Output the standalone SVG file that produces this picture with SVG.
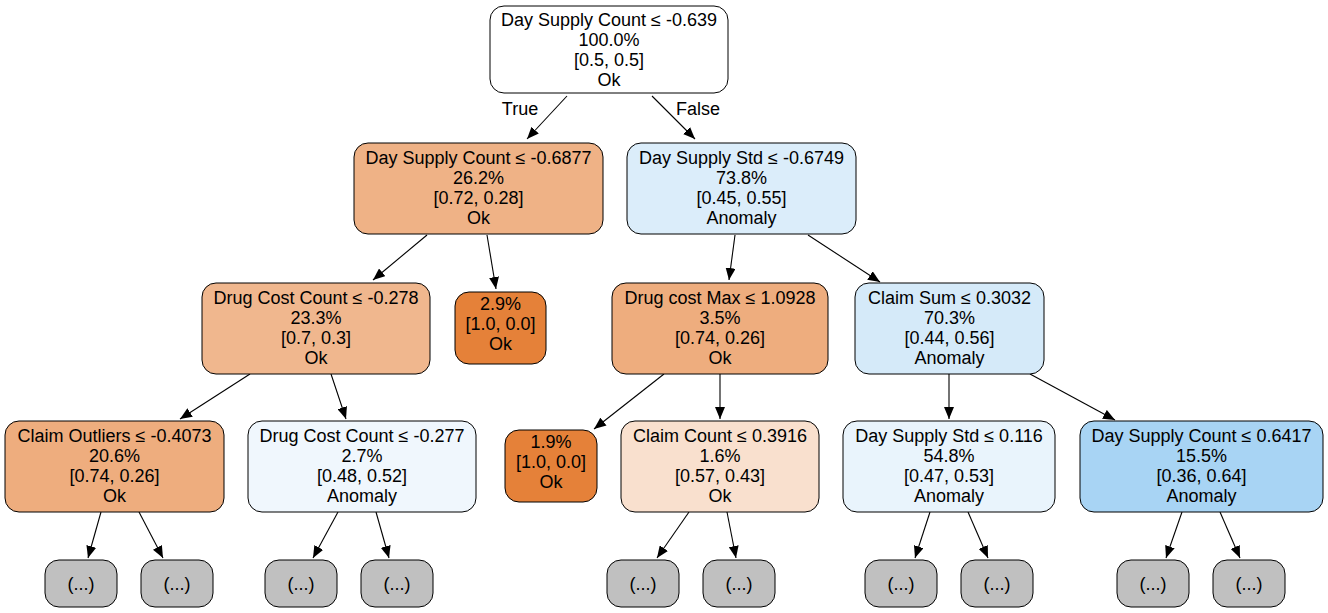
<svg xmlns="http://www.w3.org/2000/svg" width="1328" height="613" viewBox="0 0 1328 613">
<style>
text{font-family:"Liberation Sans",Arial,Helvetica,sans-serif;font-size:18px;fill:#000;text-anchor:middle}
.n{stroke:#000;stroke-width:1}
.e{stroke:#000;stroke-width:1.1;fill:none}
</style>
<defs>
<marker id="ah" markerWidth="12" markerHeight="10" refX="12" refY="5" orient="auto" markerUnits="userSpaceOnUse"><path d="M0,0 L12,5 L0,10 Z" fill="#000"/></marker>
</defs>
<rect width="1328" height="613" fill="#fff"/>
<g id="connectors">
<line class="e" x1="567" y1="96" x2="527" y2="139" marker-end="url(#ah)"/>
<line class="e" x1="652" y1="96" x2="695" y2="139" marker-end="url(#ah)"/>
<line class="e" x1="427" y1="235" x2="373" y2="280" marker-end="url(#ah)"/>
<line class="e" x1="487" y1="235" x2="496" y2="289" marker-end="url(#ah)"/>
<line class="e" x1="735" y1="235" x2="729" y2="280" marker-end="url(#ah)"/>
<line class="e" x1="808" y1="235" x2="880" y2="282" marker-end="url(#ah)"/>
<line class="e" x1="250" y1="374" x2="180" y2="419" marker-end="url(#ah)"/>
<line class="e" x1="331" y1="374" x2="346" y2="419" marker-end="url(#ah)"/>
<line class="e" x1="664" y1="374" x2="594" y2="429" marker-end="url(#ah)"/>
<line class="e" x1="720" y1="374" x2="720" y2="419" marker-end="url(#ah)"/>
<line class="e" x1="949" y1="374" x2="949" y2="419" marker-end="url(#ah)"/>
<line class="e" x1="1030" y1="374" x2="1115" y2="420" marker-end="url(#ah)"/>
<line class="e" x1="101" y1="512" x2="88" y2="558" marker-end="url(#ah)"/>
<line class="e" x1="139" y1="512" x2="163" y2="558" marker-end="url(#ah)"/>
<line class="e" x1="338" y1="512" x2="313" y2="558" marker-end="url(#ah)"/>
<line class="e" x1="376" y1="512" x2="389" y2="558" marker-end="url(#ah)"/>
<line class="e" x1="689" y1="512" x2="657" y2="558" marker-end="url(#ah)"/>
<line class="e" x1="727" y1="512" x2="736" y2="558" marker-end="url(#ah)"/>
<line class="e" x1="930" y1="512" x2="915" y2="558" marker-end="url(#ah)"/>
<line class="e" x1="968" y1="512" x2="988" y2="558" marker-end="url(#ah)"/>
<line class="e" x1="1182" y1="512" x2="1166" y2="558" marker-end="url(#ah)"/>
<line class="e" x1="1220" y1="512" x2="1240" y2="558" marker-end="url(#ah)"/>
<text x="520" y="115">True</text>
<text x="698" y="115">False</text>
</g>
<g id="n0"><rect class="n" x="490" y="6" width="238" height="87" rx="14" fill="#ffffff"/>
<text x="609" y="26">Day Supply Count ≤ -0.639</text><text x="609" y="46">100.0%</text><text x="609" y="66">[0.5, 0.5]</text><text x="609" y="86">Ok</text></g>
<g id="n1"><rect class="n" x="354" y="143" width="249" height="91" rx="14" fill="#efb286"/>
<text x="478.5" y="164">Day Supply Count ≤ -0.6877</text><text x="478.5" y="184">26.2%</text><text x="478.5" y="204">[0.72, 0.28]</text><text x="478.5" y="224">Ok</text></g>
<g id="n2"><rect class="n" x="627" y="143" width="229" height="91" rx="14" fill="#dbedfa"/>
<text x="741.5" y="164">Day Supply Std ≤ -0.6749</text><text x="741.5" y="184">73.8%</text><text x="741.5" y="204">[0.45, 0.55]</text><text x="741.5" y="224">Anomaly</text></g>
<g id="n3"><rect class="n" x="202" y="283" width="228" height="91" rx="14" fill="#f0b78e"/>
<text x="316" y="304">Drug Cost Count ≤ -0.278</text><text x="316" y="324">23.3%</text><text x="316" y="344">[0.7, 0.3]</text><text x="316" y="364">Ok</text></g>
<g id="n4"><rect class="n" x="455" y="292" width="91" height="72" rx="14" fill="#e58139"/>
<text x="500.5" y="310">2.9%</text><text x="500.5" y="330">[1.0, 0.0]</text><text x="500.5" y="350">Ok</text></g>
<g id="n5"><rect class="n" x="612" y="283" width="216" height="91" rx="14" fill="#eead7e"/>
<text x="720" y="304">Drug cost Max ≤ 1.0928</text><text x="720" y="324">3.5%</text><text x="720" y="344">[0.74, 0.26]</text><text x="720" y="364">Ok</text></g>
<g id="n6"><rect class="n" x="855" y="283" width="189" height="91" rx="14" fill="#d5eaf9"/>
<text x="949.5" y="304">Claim Sum ≤ 0.3032</text><text x="949.5" y="324">70.3%</text><text x="949.5" y="344">[0.44, 0.56]</text><text x="949.5" y="364">Anomaly</text></g>
<g id="n7"><rect class="n" x="5" y="421" width="219" height="91" rx="14" fill="#eead7e"/>
<text x="114.5" y="442">Claim Outliers ≤ -0.4073</text><text x="114.5" y="462">20.6%</text><text x="114.5" y="482">[0.74, 0.26]</text><text x="114.5" y="502">Ok</text></g>
<g id="n8"><rect class="n" x="248" y="421" width="228" height="91" rx="14" fill="#f0f7fd"/>
<text x="362" y="442">Drug Cost Count ≤ -0.277</text><text x="362" y="462">2.7%</text><text x="362" y="482">[0.48, 0.52]</text><text x="362" y="502">Anomaly</text></g>
<g id="n9"><rect class="n" x="505" y="430" width="92" height="72" rx="14" fill="#e58139"/>
<text x="551" y="448">1.9%</text><text x="551" y="468">[1.0, 0.0]</text><text x="551" y="488">Ok</text></g>
<g id="n10"><rect class="n" x="621" y="421" width="198" height="91" rx="14" fill="#f9e0ce"/>
<text x="720" y="442">Claim Count ≤ 0.3916</text><text x="720" y="462">1.6%</text><text x="720" y="482">[0.57, 0.43]</text><text x="720" y="502">Ok</text></g>
<g id="n11"><rect class="n" x="843" y="421" width="212" height="91" rx="14" fill="#e9f4fc"/>
<text x="949" y="442">Day Supply Std ≤ 0.116</text><text x="949" y="462">54.8%</text><text x="949" y="482">[0.47, 0.53]</text><text x="949" y="502">Anomaly</text></g>
<g id="n12"><rect class="n" x="1080" y="421" width="243" height="91" rx="14" fill="#a8d4f4"/>
<text x="1201.5" y="442">Day Supply Count ≤ 0.6417</text><text x="1201.5" y="462">15.5%</text><text x="1201.5" y="482">[0.36, 0.64]</text><text x="1201.5" y="502">Anomaly</text></g>
<g id="t1"><rect class="n" x="45" y="560" width="72" height="47" rx="14" fill="#c0c0c0"/><text x="81" y="590">(...)</text></g>
<g id="t2"><rect class="n" x="141" y="560" width="72" height="47" rx="14" fill="#c0c0c0"/><text x="177" y="590">(...)</text></g>
<g id="t3"><rect class="n" x="265" y="560" width="72" height="47" rx="14" fill="#c0c0c0"/><text x="301" y="590">(...)</text></g>
<g id="t4"><rect class="n" x="361" y="560" width="72" height="47" rx="14" fill="#c0c0c0"/><text x="397" y="590">(...)</text></g>
<g id="t5"><rect class="n" x="607" y="560" width="72" height="47" rx="14" fill="#c0c0c0"/><text x="643" y="590">(...)</text></g>
<g id="t6"><rect class="n" x="703" y="560" width="72" height="47" rx="14" fill="#c0c0c0"/><text x="739" y="590">(...)</text></g>
<g id="t7"><rect class="n" x="865" y="560" width="72" height="47" rx="14" fill="#c0c0c0"/><text x="901" y="590">(...)</text></g>
<g id="t8"><rect class="n" x="961" y="560" width="72" height="47" rx="14" fill="#c0c0c0"/><text x="997" y="590">(...)</text></g>
<g id="t9"><rect class="n" x="1117" y="560" width="72" height="47" rx="14" fill="#c0c0c0"/><text x="1153" y="590">(...)</text></g>
<g id="t10"><rect class="n" x="1213" y="560" width="72" height="47" rx="14" fill="#c0c0c0"/><text x="1249" y="590">(...)</text></g>
</svg>
